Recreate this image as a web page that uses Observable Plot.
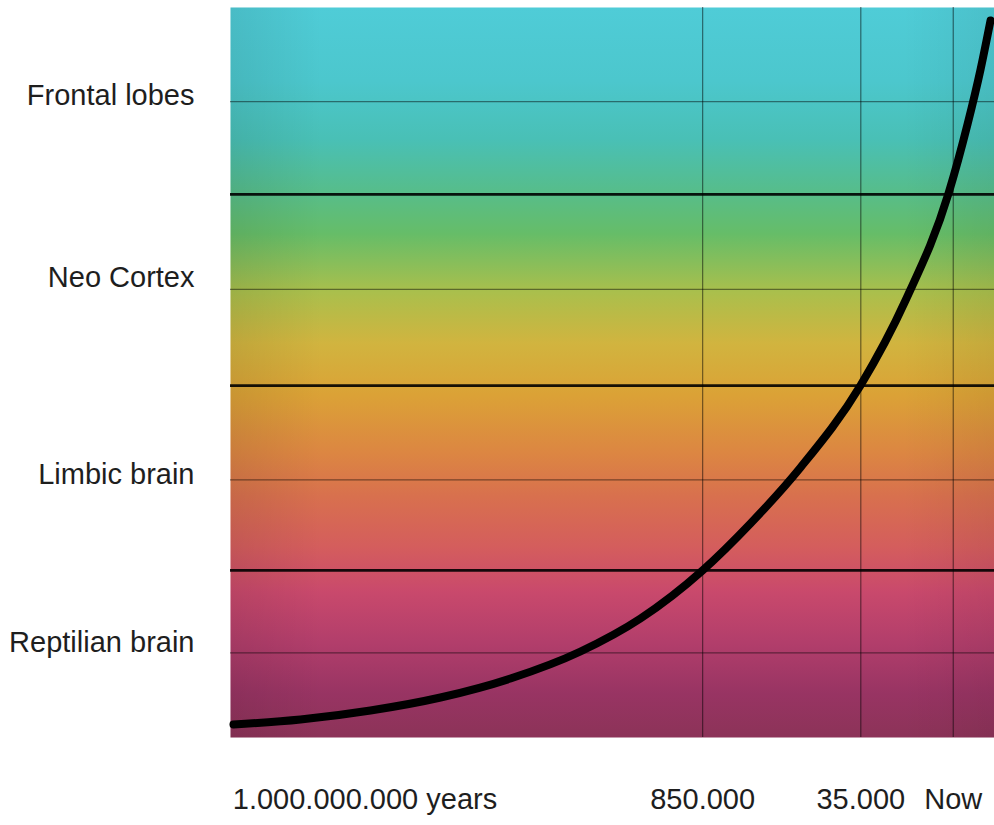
<!DOCTYPE html>
<html>
<head>
<meta charset="utf-8">
<script src="https://cdn.jsdelivr.net/npm/d3@7"></script>
<script src="https://cdn.jsdelivr.net/npm/@observablehq/plot@0.6"></script>
<style>
  html, body { margin: 0; padding: 0; background: #fff; }
  #chart svg { display: block; }
</style>
</head>
<body>
<div id="chart"></div>
<script>
// ---- data (x: 0..100 time axis, y: 0..100 development) ----
const curveX = [0.39, 9.16, 18.32, 27.49, 36.65, 45.81, 53.66, 61.78, 68.06, 74.61, 82.46, 88.35, 93.98, 96.47, 98.17, 99.48];
const curveY = [1.78, 2.47, 3.70, 5.48, 8.08, 11.78, 16.30, 22.88, 29.32, 36.99, 48.22, 59.86, 74.52, 84.0, 91.5, 98.22];

const stageLabels = ["Frontal lobes", "Neo Cortex", "Limbic brain", "Reptilian brain"];
const stageLabelY = [87.9, 63.0, 36.0, 13.0];

const boundaryY = [74.4, 48.2, 22.9];        // thick lines between stages
const minorY = [87.1, 61.4, 35.3, 11.6];      // thin lines
const timeX = [61.8, 82.5, 94.6];             // thin vertical lines

const timeLabels = ["1.000.000.000 years", "850.000", "35.000", "Now"];
const timeLabelX = [0.3, 61.8, 82.5, 94.6];

// ---- build tables ----
const curve = curveX.map((x, i) => ({x, y: curveY[i]}));
const times = timeLabels.map((label, i) => ({label, x: timeLabelX[i], first: i === 0}));

const gradientStops = [
  [0.00, "#4fccd7"],
  [0.10, "#4cc7cd"],
  [0.18, "#49c0b6"],
  [0.25, "#56bd8c"],
  [0.31, "#66bd68"],
  [0.39, "#aabf4c"],
  [0.46, "#d1b43f"],
  [0.53, "#dba236"],
  [0.61, "#dc8642"],
  [0.67, "#d8704e"],
  [0.74, "#d45d5d"],
  [0.80, "#c9496c"],
  [0.87, "#b23e6b"],
  [0.94, "#983463"],
  [1.00, "#8c3358"]
];

const chart = Plot.plot({
  width: 994,
  height: 825,
  marginLeft: 230,
  marginRight: 0,
  marginTop: 7,
  marginBottom: 88,
  x: {domain: [0, 100], axis: null},
  y: {domain: [0, 100], axis: null},
  style: {fontFamily: "Liberation Sans, Arial, sans-serif", background: "#fff"},
  marks: [
    Plot.frame({fill: "url(#bgGrad)", stroke: null}),
    Plot.frame({fill: "url(#edgeGrad)", stroke: null}),
    Plot.ruleY(minorY, {stroke: "#000", strokeOpacity: 0.45, strokeWidth: 1.2}),
    Plot.ruleX(timeX, {stroke: "#000", strokeOpacity: 0.5, strokeWidth: 1.2}),
    Plot.ruleY(boundaryY, {stroke: "#000", strokeOpacity: 0.9, strokeWidth: 2.6}),
    Plot.line(curve, {x: "x", y: "y", curve: "monotone-x", stroke: "#000", strokeWidth: 8, strokeLinecap: "round", strokeLinejoin: "round"}),
    Plot.axisY(stageLabelY, {
      label: null, tickSize: 0, tickPadding: 36, fontSize: 29, fill: "#1e1e1e",
      tickFormat: (d) => stageLabels[stageLabelY.indexOf(d)]
    }),
    Plot.text(times.filter(d => d.first), {x: "x", text: "label", frameAnchor: "bottom", dy: 71, textAnchor: "start", fontSize: 29, fill: "#1e1e1e"}),
    Plot.text(times.filter(d => !d.first), {x: "x", text: "label", frameAnchor: "bottom", dy: 71, textAnchor: "middle", fontSize: 29, fill: "#1e1e1e"})
  ]
});

// gradient definitions
const svg = d3.select(chart);
const defs = svg.insert("defs", ":first-child");
const lg = defs.append("linearGradient").attr("id", "bgGrad")
  .attr("x1", 0).attr("y1", 0).attr("x2", 0).attr("y2", 1);
gradientStops.forEach(([o, c]) => lg.append("stop").attr("offset", o).attr("stop-color", c));
const eg = defs.append("linearGradient").attr("id", "edgeGrad")
  .attr("x1", 0).attr("y1", 0).attr("x2", 1).attr("y2", 0);
[[0, 0.08], [0.12, 0], [0.88, 0], [1, 0.06]].forEach(([o, a]) =>
  eg.append("stop").attr("offset", o).attr("stop-color", "#000").attr("stop-opacity", a));

document.getElementById("chart").appendChild(chart);
</script>
</body>
</html>
